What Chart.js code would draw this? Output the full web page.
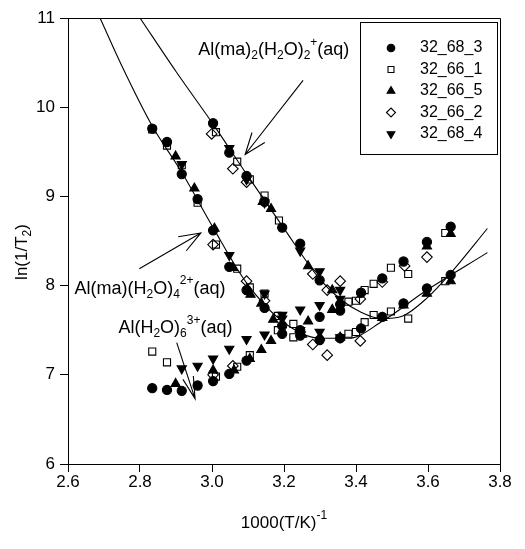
<!DOCTYPE html>
<html lang="en">
<head>
<meta charset="UTF-8">
<title>ln(1/T2) vs 1000/T</title>
<script src="https://cdn.jsdelivr.net/npm/chart.js"></script>
<style>
  html, body { margin: 0; padding: 0; background: #fff; }
  #wrap { width: 525px; height: 549px; }
</style>
</head>
<body>
<div id="wrap"><canvas id="nmrChart" width="525" height="549"></canvas></div>
<script>
// x = 1000/(T/K), y = ln(1/T2)
const xTicks = [2.6, 2.8, 3.0, 3.2, 3.4, 3.6, 3.8];
const yTicks = [6, 7, 8, 9, 10, 11];

const seriesNames = ['32_68_3', '32_66_1', '32_66_5', '32_66_2', '32_68_4'];

// measured points [1000/T, ln(1/T2)]
const s32_68_3 = [
  [2.834, 9.76], [2.875, 9.61], [2.916, 9.25], [2.960, 8.97], [3.003, 8.62], [3.048, 8.21],
  [3.096, 7.95], [3.146, 7.75], [3.195, 7.55], [3.245, 7.44], [3.299, 7.39], [3.356, 7.41],
  [3.414, 7.52], [3.473, 7.65], [3.532, 7.80], [3.597, 7.97], [3.663, 8.12],
  [3.003, 9.82], [3.048, 9.49], [3.096, 9.23], [3.146, 8.94], [3.195, 8.65], [3.245, 8.47],
  [3.299, 8.06], [3.356, 7.79], [3.414, 7.92], [3.473, 8.08], [3.532, 8.27], [3.597, 8.49], [3.663, 8.66],
  [2.834, 6.85], [2.875, 6.83], [2.916, 6.82], [2.960, 6.88], [3.003, 6.93], [3.048, 7.01],
  [3.096, 7.16], [3.195, 7.46], [3.245, 7.50], [3.299, 7.65], [3.356, 7.72]
];
const s32_66_1 = [
  [2.834, 9.75], [2.875, 9.57], [2.916, 9.35], [2.960, 8.93], [3.011, 8.46], [3.070, 8.19],
  [3.105, 7.98], [3.146, 7.91], [3.183, 7.66], [3.226, 7.57], [3.226, 7.42], [3.379, 7.46],
  [3.400, 7.48], [3.424, 7.59],
  [3.011, 9.72], [3.070, 9.39], [3.105, 9.19], [3.146, 9.01], [3.186, 8.73], [3.379, 7.82],
  [3.400, 7.83], [3.424, 7.95], [3.449, 8.02], [3.497, 8.20], [3.545, 8.13], [3.648, 8.59],
  [2.834, 7.26], [2.875, 7.14], [3.011, 6.98], [3.070, 7.09], [3.105, 7.22], [3.183, 7.50],
  [3.449, 7.67], [3.497, 7.71], [3.545, 7.63], [3.648, 8.05]
];
const s32_66_5 = [
  [2.899, 9.45], [2.951, 9.09], [3.007, 8.64], [3.058, 8.20], [3.107, 7.90], [3.137, 7.80], [3.170, 7.62],
  [3.141, 8.94], [3.164, 8.86], [3.267, 8.22], [3.334, 7.95],
  [2.899, 6.90], [3.003, 7.05], [3.061, 7.05], [3.105, 7.18], [3.137, 7.28], [3.164, 7.38],
  [3.250, 7.45], [3.267, 7.60], [3.300, 7.42], [3.334, 7.73], [3.356, 7.42],
  [3.473, 7.64], [3.532, 7.78], [3.597, 7.91], [3.663, 8.05], [3.597, 8.44], [3.663, 8.58]
];
const s32_66_2 = [
  [3.003, 8.46], [3.096, 8.05], [3.146, 7.83], [3.280, 7.34], [3.320, 7.22], [3.412, 7.38],
  [2.999, 9.70], [3.058, 9.31], [3.096, 9.16], [3.280, 8.13], [3.320, 7.95], [3.356, 8.05],
  [3.412, 7.85], [3.473, 8.04], [3.535, 8.22], [3.597, 8.32],
  [3.003, 7.00], [3.058, 7.10], [3.245, 7.48]
];
const s32_68_4 = [
  [2.916, 9.36], [3.048, 8.34], [3.146, 7.91], [3.195, 7.67], [3.245, 7.50],
  [3.048, 9.54], [3.096, 9.19], [3.146, 8.93], [3.245, 8.39], [3.299, 8.16], [3.356, 7.95],
  [2.916, 7.07], [2.960, 7.10], [3.003, 7.18], [3.048, 7.29], [3.096, 7.40], [3.146, 7.45],
  [3.195, 7.63], [3.245, 7.73], [3.299, 7.78], [3.299, 7.48], [3.356, 7.42], [3.356, 7.85]
];

// fitted curves
const curveMa = [
  [2.689, 11.0], [2.750, 10.46], [2.834, 9.79], [2.916, 9.27], [3.003, 8.65], [3.096, 8.03],
  [3.195, 7.60], [3.300, 7.41], [3.380, 7.41], [3.473, 7.60], [3.597, 7.95], [3.765, 8.37]
];
const curveMa2 = [
  [2.800, 11.0], [2.900, 10.40], [3.003, 9.81], [3.096, 9.25], [3.195, 8.67], [3.300, 8.07],
  [3.356, 7.85], [3.414, 7.70], [3.470, 7.63], [3.530, 7.66], [3.597, 7.86], [3.663, 8.14], [3.765, 8.64]
];

// species labels and arrows (data coordinates)
const notes = [
  { text: [['Al(ma)', 'n'], ['2', 'sub'], ['(H', 'n'], ['2', 'sub'], ['O)', 'n'], ['2', 'sub'], ['+', 'sup'], ['(aq)', 'n']],
    at: [2.962, 10.64], from: [3.253, 10.30], to: [3.092, 9.47], spread: 0.36 },
  { text: [['Al(ma)(H', 'n'], ['2', 'sub'], ['O)', 'n'], ['4', 'sub'], ['2+', 'sup'], ['(aq)', 'n']],
    at: [2.618, 7.965], from: [2.798, 8.19], to: [2.969, 8.59], spread: 0.36 },
  { text: [['Al(H', 'n'], ['2', 'sub'], ['O)', 'n'], ['6', 'sub'], ['3+', 'sup'], ['(aq)', 'n']],
    at: [2.740, 7.52], from: [2.902, 7.36], to: [2.953, 6.73], spread: 0.24 }
];

const FONT = '"Liberation Sans", Arial, sans-serif';
const toXY = arr => arr.map(p => ({ x: p[0], y: p[1] }));

const markerStyles = [
  { pointStyle: 'circle', radius: 4.6, fill: '#000', rotation: 0 },
  { pointStyle: 'rect', radius: 5, fill: 'rgba(0,0,0,0)', rotation: 0 },
  { pointStyle: 'triangle', radius: 5.3, fill: '#000', rotation: 0 },
  { pointStyle: 'rectRot', radius: 5.3, fill: 'rgba(0,0,0,0)', rotation: 0 },
  { pointStyle: 'triangle', radius: 5.3, fill: '#000', rotation: 180 }
];
const seriesData = [s32_68_3, s32_66_1, s32_66_5, s32_66_2, s32_68_4];

const pointSets = seriesData.map((d, i) => ({
  label: seriesNames[i],
  data: toXY(d),
  showLine: false,
  pointStyle: markerStyles[i].pointStyle,
  pointRadius: markerStyles[i].radius,
  pointRotation: markerStyles[i].rotation,
  pointBackgroundColor: markerStyles[i].fill,
  pointBorderColor: '#000',
  pointBorderWidth: 1.1,
  pointHoverRadius: markerStyles[i].radius
}));

const lineSets = [curveMa, curveMa2].map((d, i) => ({
  label: i === 0 ? 'fit Al(ma)' : 'fit Al(ma)2',
  data: toXY(d),
  showLine: true,
  pointRadius: 0,
  borderColor: '#000',
  borderWidth: 1.1,
  cubicInterpolationMode: 'monotone',
  fill: false
}));

function drawRich(ctx, parts, x, y, size) {
  let cx = x;
  parts.forEach(([txt, mode]) => {
    const fs = mode === 'n' ? size : Math.round(size * 0.68);
    const dy = mode === 'sub' ? size * 0.32 : (mode === 'sup' ? -size * 0.42 : 0);
    ctx.font = fs + 'px ' + FONT;
    ctx.fillText(txt, cx, y + dy);
    cx += ctx.measureText(txt).width;
  });
  return cx - x;
}

function arrow(ctx, x1, y1, x2, y2, spread) {
  const ang = Math.atan2(y1 - y2, x1 - x2);
  const len = 23;
  ctx.beginPath();
  ctx.moveTo(x1, y1);
  ctx.lineTo(x2, y2);
  ctx.moveTo(x2 + len * Math.cos(ang - spread), y2 + len * Math.sin(ang - spread));
  ctx.lineTo(x2, y2);
  ctx.lineTo(x2 + len * Math.cos(ang + spread), y2 + len * Math.sin(ang + spread));
  ctx.stroke();
}

const extras = {
  id: 'extras',
  afterDraw(chart) {
    const { ctx, chartArea: a, scales: { x, y } } = chart;
    ctx.save();
    ctx.strokeStyle = '#000';
    ctx.fillStyle = '#000';
    ctx.lineWidth = 1;
    // top and right frame
    ctx.beginPath();
    ctx.moveTo(a.left, a.top + 0.5);
    ctx.lineTo(a.right + 0.5, a.top + 0.5);
    ctx.lineTo(a.right + 0.5, a.bottom);
    ctx.stroke();

    // axis titles
    ctx.textBaseline = 'middle';
    const xt = [['1000(T/K)', 'n'], ['-1', 'sup']];
    ctx.font = '17px ' + FONT;
    let w = ctx.measureText('1000(T/K)').width;
    ctx.font = '12px ' + FONT;
    w += ctx.measureText('-1').width;
    drawRich(ctx, xt, (a.left + a.right) / 2 - w / 2, 523, 17);

    ctx.save();
    ctx.translate(a.left - 46, (a.top + a.bottom) / 2 + 11);
    ctx.rotate(-Math.PI / 2);
    const yt = [['ln(1/T', 'n'], ['2', 'sub'], [')', 'n']];
    ctx.font = '17px ' + FONT;
    let wy = ctx.measureText('ln(1/T)').width;
    ctx.font = '12px ' + FONT;
    wy += ctx.measureText('2').width;
    drawRich(ctx, yt, -wy / 2, 0, 17);
    ctx.restore();

    // species labels with arrows
    ctx.lineWidth = 1.1;
    notes.forEach(n => {
      drawRich(ctx, n.text, x.getPixelForValue(n.at[0]), y.getPixelForValue(n.at[1]), 18);
      arrow(ctx, x.getPixelForValue(n.from[0]), y.getPixelForValue(n.from[1]),
        x.getPixelForValue(n.to[0]), y.getPixelForValue(n.to[1]), n.spread);
    });

    // legend box
    const bw = 137, bh = 132;
    const bx = a.right - 3 - bw, by = a.top + 4;
    ctx.lineWidth = 1;
    ctx.strokeRect(Math.round(bx) + 0.5, Math.round(by) + 0.5, bw, bh);
    ctx.textAlign = 'left';
    seriesNames.forEach((name, i) => {
      const ry = by + 26 + i * 21.5;
      const m = markerStyles[i];
      ctx.fillStyle = m.fill;
      ctx.strokeStyle = '#000';
      ctx.lineWidth = 1.1;
      Chart.helpers.drawPoint(ctx, {
        pointStyle: m.pointStyle, radius: m.radius - 0.8, rotation: m.rotation, borderWidth: 1.1
      }, bx + 31, ry);
      ctx.fillStyle = '#000';
      ctx.font = '16px ' + FONT;
      ctx.fillText(name, bx + 60, ry);
    });
    ctx.restore();
  }
};

new Chart(document.getElementById('nmrChart'), {
  type: 'scatter',
  data: { datasets: pointSets.concat(lineSets) },
  options: {
    responsive: false,
    animation: false,
    events: [],
    layout: { padding: { top: 18, right: 25, left: 0, bottom: 0 } },
    plugins: { legend: { display: false }, tooltip: { enabled: false } },
    scales: {
      x: {
        type: 'linear',
        min: 2.6, max: 3.8,
        afterBuildTicks: s => { s.ticks = xTicks.map(v => ({ value: v })); },
        afterFit: s => { s.height = 85; },
        ticks: {
          color: '#000', padding: 0,
          font: { family: FONT, size: 17 },
          callback: v => Number(v).toFixed(1)
        },
        grid: { drawOnChartArea: false, tickLength: 8, color: '#000' },
        border: { color: '#000', width: 1 }
      },
      y: {
        type: 'linear',
        min: 6, max: 11,
        afterBuildTicks: s => { s.ticks = yTicks.map(v => ({ value: v })); },
        afterFit: s => { s.width = 68; },
        ticks: {
          color: '#000', padding: 5,
          font: { family: FONT, size: 17 },
          callback: v => String(v)
        },
        grid: { drawOnChartArea: false, tickLength: 8, color: '#000' },
        border: { color: '#000', width: 1 }
      }
    }
  },
  plugins: [extras]
});
</script>
</body>
</html>
